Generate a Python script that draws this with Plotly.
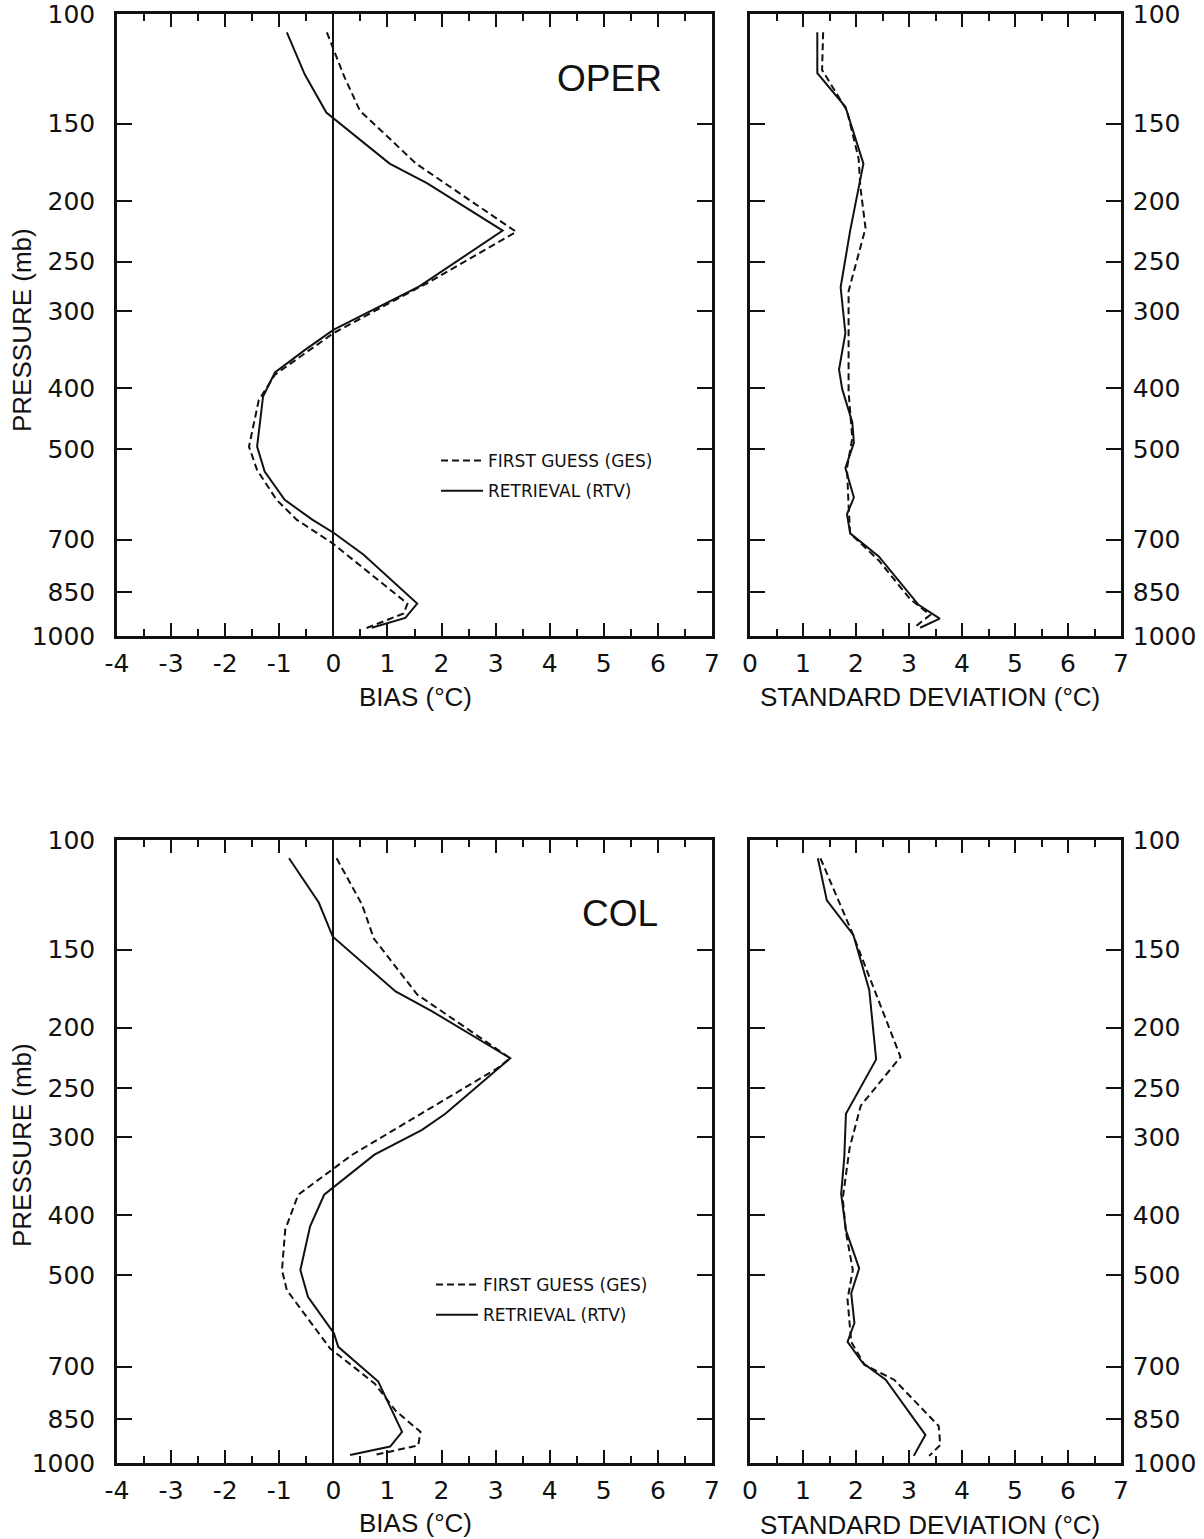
import plotly.graph_objects as go

W, H = 1204, 1539

# ---------------- data (pressure in mb, values in deg C) ----------------
PRESSURE_TICKS = [100, 150, 200, 250, 300, 400, 500, 700, 850, 1000]
BIAS_TICKS = [-4, -3, -2, -1, 0, 1, 2, 3, 4, 5, 6, 7]
SD_TICKS = [0, 1, 2, 3, 4, 5, 6, 7]

# OPER - bias
OPER_BIAS_GES_P = [107, 126, 143, 174, 224, 271, 288, 316, 326, 380, 418, 496, 541, 604, 650, 709, 887, 920, 972]
OPER_BIAS_GES_X = [-0.12, 0.20, 0.49, 1.53, 3.38, 1.73, 1.15, 0.27, 0.00, -1.08, -1.38, -1.56, -1.41, -1.05, -0.68, -0.02, 1.37, 1.30, 0.60]
OPER_BIAS_RTV_P = [107, 125, 144, 174, 187, 223, 274, 322, 347, 377, 412, 496, 544, 604, 650, 683, 740, 887, 935, 970]
OPER_BIAS_RTV_X = [-0.86, -0.53, -0.13, 1.04, 1.73, 3.13, 1.59, 0.00, -0.53, -1.08, -1.30, -1.41, -1.27, -0.90, -0.39, 0.01, 0.56, 1.55, 1.33, 0.71]

# OPER - standard deviation
OPER_SD_GES_P = [107, 123, 143, 171, 189, 221, 279, 331, 405, 481, 537, 617, 684, 756, 872, 925, 967]
OPER_SD_GES_X = [1.38, 1.36, 1.83, 2.05, 2.08, 2.18, 1.86, 1.86, 1.86, 1.93, 1.83, 1.86, 1.89, 2.43, 3.02, 3.40, 3.11]
OPER_SD_RTV_P = [107, 124.5, 141, 174, 223, 275, 326, 373, 401, 453, 489, 537, 599, 637, 684, 745, 891, 938, 970]
OPER_SD_RTV_X = [1.27, 1.27, 1.80, 2.14, 1.89, 1.71, 1.80, 1.68, 1.74, 1.93, 1.96, 1.80, 1.96, 1.83, 1.89, 2.43, 3.18, 3.58, 3.21]

# COL - bias
COL_BIAS_GES_P = [107, 127, 144, 177, 224, 232, 320, 338, 371, 422, 490, 528, 655, 745, 826, 891, 937, 971]
COL_BIAS_GES_X = [0.06, 0.53, 0.75, 1.55, 3.27, 3.05, 0.35, -0.02, -0.65, -0.89, -0.95, -0.86, -0.06, 0.76, 1.16, 1.61, 1.57, 0.76]
COL_BIAS_RTV_P = [107, 126, 143, 175, 188, 224, 275, 292, 320, 371, 417, 490, 541, 619, 651, 740, 891, 941, 971]
COL_BIAS_RTV_X = [-0.82, -0.27, -0.01, 1.15, 1.81, 3.27, 2.07, 1.64, 0.76, -0.17, -0.43, -0.61, -0.47, 0.01, 0.09, 0.83, 1.27, 1.05, 0.31]

# COL - standard deviation
COL_SD_GES_P = [107, 141, 223, 267, 312, 376, 426, 490, 546, 639, 696, 735, 872, 936, 974]
COL_SD_GES_X = [1.33, 1.93, 2.84, 2.09, 1.88, 1.75, 1.81, 1.94, 1.84, 1.91, 2.16, 2.72, 3.56, 3.59, 3.38]
COL_SD_RTV_P = [107, 125, 142, 174, 225, 275, 322, 370, 423, 487, 534, 596, 639, 691, 735, 901, 974]
COL_SD_RTV_X = [1.28, 1.45, 1.95, 2.25, 2.38, 1.81, 1.78, 1.72, 1.81, 2.06, 1.91, 1.97, 1.84, 2.13, 2.56, 3.31, 3.09]

GES_NAME = "FIRST GUESS (GES)"
RTV_NAME = "RETRIEVAL (RTV)"

# ---------------- figure ----------------
INK = "#111111"
TICK_FONT = dict(family="DejaVu Sans", size=25, color=INK)
TITLE_FONT = dict(family="Liberation Sans", size=26, color=INK)
LEGEND_FONT = dict(family="DejaVu Sans", size=17, color=INK)


def fx(px):
    return px / W


def fy(py):
    return 1 - py / H


fig = go.Figure()

panels = [
    # (xaxis, yaxis, ges_x, ges_p, rtv_x, rtv_p, legend)
    ("x", "y", OPER_BIAS_GES_X, OPER_BIAS_GES_P, OPER_BIAS_RTV_X, OPER_BIAS_RTV_P, "legend"),
    ("x2", "y2", OPER_SD_GES_X, OPER_SD_GES_P, OPER_SD_RTV_X, OPER_SD_RTV_P, None),
    ("x3", "y3", COL_BIAS_GES_X, COL_BIAS_GES_P, COL_BIAS_RTV_X, COL_BIAS_RTV_P, "legend2"),
    ("x4", "y4", COL_SD_GES_X, COL_SD_GES_P, COL_SD_RTV_X, COL_SD_RTV_P, None),
]

for xa, ya, gx, gp, rx, rp, leg in panels:
    fig.add_trace(go.Scatter(
        x=gx, y=gp, xaxis=xa, yaxis=ya, mode="lines", name=GES_NAME,
        line=dict(color=INK, width=2, dash="7px,4px"), legendgroup="ges",
        showlegend=leg is not None, legend=leg if leg else "legend",
    ))
    fig.add_trace(go.Scatter(
        x=rx, y=rp, xaxis=xa, yaxis=ya, mode="lines", name=RTV_NAME,
        line=dict(color=INK, width=2), legendgroup="rtv",
        showlegend=leg is not None, legend=leg if leg else "legend",
    ))

X_LEFT = [fx(117), fx(712)]
X_RIGHT = [fx(750), fx(1121)]
Y_TOP = [fy(636), fy(14)]
Y_BOT = [fy(1463), fy(840)]


def xaxis_cfg(domain, anchor, rng, ticks, zeroline):
    return dict(
        domain=domain, anchor=anchor, range=rng,
        tickvals=ticks, ticktext=[str(t) for t in ticks],
        ticks="inside", ticklen=13, tickwidth=2, tickcolor=INK,
        minor=dict(dtick=0.5, tick0=0, ticks="inside", ticklen=7, tickwidth=2, tickcolor=INK, showgrid=False),
        showline=True, linewidth=2.5, linecolor=INK, mirror="ticks",
        showgrid=False, zeroline=zeroline, zerolinecolor=INK, zerolinewidth=1.6,
        tickfont=TICK_FONT, ticklabelstandoff=3, ticklabeloverflow="allow",
        automargin=False, fixedrange=True,
    )


def yaxis_cfg(domain, anchor, side, standoff):
    return dict(
        domain=domain, anchor=anchor, type="log", range=[3, 2], side=side,
        tickvals=PRESSURE_TICKS, ticktext=[str(t) for t in PRESSURE_TICKS],
        ticks="inside", ticklen=15, tickwidth=2, tickcolor=INK,
        showline=True, linewidth=2.5, linecolor=INK, mirror="ticks",
        showgrid=False, zeroline=False,
        tickfont=TICK_FONT, ticklabelstandoff=standoff, ticklabeloverflow="allow",
        automargin=False, fixedrange=True,
    )


legend_common = dict(xanchor="left", yanchor="top", bgcolor="rgba(0,0,0,0)", borderwidth=0,
                     itemwidth=42, font=LEGEND_FONT, traceorder="grouped", tracegroupgap=5)

fig.update_layout(
    width=W, height=H,
    margin=dict(l=0, r=0, t=0, b=0),
    paper_bgcolor="white", plot_bgcolor="white",
    showlegend=True,
    xaxis=xaxis_cfg(X_LEFT, "y", [-4, 7], BIAS_TICKS, True),
    yaxis=yaxis_cfg(Y_TOP, "x", "left", 14),
    xaxis2=xaxis_cfg(X_RIGHT, "y2", [0, 7], SD_TICKS, False),
    yaxis2=yaxis_cfg(Y_TOP, "x2", "right", 4),
    xaxis3=xaxis_cfg(X_LEFT, "y3", [-4, 7], BIAS_TICKS, True),
    yaxis3=yaxis_cfg(Y_BOT, "x3", "left", 14),
    xaxis4=xaxis_cfg(X_RIGHT, "y4", [0, 7], SD_TICKS, False),
    yaxis4=yaxis_cfg(Y_BOT, "x4", "right", 4),
    legend=dict(x=fx(436), y=fy(443), **legend_common),
    legend2=dict(x=fx(431), y=fy(1267), **legend_common),
)

annotations = [
    dict(text="OPER", x=fx(609), y=fy(78)),
    dict(text="COL", x=fx(620), y=fy(913)),
]
for a in annotations:
    fig.add_annotation(xref="paper", yref="paper", x=a["x"], y=a["y"], text=a["text"],
                       showarrow=False, xanchor="center", yanchor="middle",
                       font=dict(family="Liberation Sans", size=37, color=INK))

titles = [
    ("BIAS (°C)", 415, 697, 0),
    ("STANDARD DEVIATION (°C)", 930, 697, 0),
    ("BIAS (°C)", 415, 1523, 0),
    ("STANDARD DEVIATION (°C)", 930, 1525, 0),
    ("PRESSURE (mb)", 22, 330, -90),
    ("PRESSURE (mb)", 22, 1145, -90),
]
for text, px, py, ang in titles:
    fig.add_annotation(xref="paper", yref="paper", x=fx(px), y=fy(py), text=text,
                       showarrow=False, xanchor="center", yanchor="middle", textangle=ang,
                       font=TITLE_FONT)

fig.write_html("out.html")
